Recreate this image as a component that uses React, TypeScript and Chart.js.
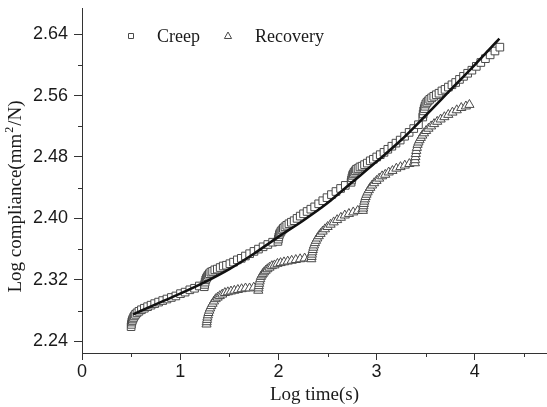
import { useEffect, useRef } from 'react';
import { Chart, registerables } from 'chart.js';

Chart.register(...registerables);

// Creep series (log time, log compliance), five loading steps
const creepLogTime = [
  0.500, 0.503, 0.507, 0.512, 0.518, 0.525, 0.534, 0.545, 0.560, 0.580, 0.605, 0.635, 0.668, 0.703, 0.740, 0.780, 0.822, 0.865, 0.910, 0.956, 1.003, 1.050, 1.098, 1.146, 1.195,
  1.245, 1.249, 1.254, 1.260, 1.267, 1.275, 1.285, 1.297, 1.312, 1.330, 1.352, 1.378, 1.407, 1.438, 1.471, 1.506, 1.543, 1.582, 1.622, 1.664, 1.707, 1.751, 1.797, 1.844, 1.892, 1.941,
  1.995, 1.999, 2.004, 2.010, 2.017, 2.026, 2.037, 2.050, 2.066, 2.085, 2.107, 2.132, 2.160, 2.190, 2.222, 2.256, 2.292, 2.330, 2.369, 2.410, 2.452, 2.495, 2.540, 2.586, 2.633, 2.681,
  2.740, 2.744, 2.749, 2.755, 2.762, 2.771, 2.782, 2.795, 2.811, 2.830, 2.852, 2.877, 2.905, 2.935, 2.967, 3.001, 3.037, 3.075, 3.114, 3.155, 3.197, 3.240, 3.285, 3.331, 3.378, 3.426,
  3.470, 3.474, 3.479, 3.485, 3.492, 3.501, 3.512, 3.525, 3.541, 3.560, 3.582, 3.607, 3.635, 3.665, 3.697, 3.731, 3.767, 3.805, 3.844, 3.885, 3.927, 3.970, 4.015, 4.061, 4.108, 4.156, 4.205, 4.255,
];
const creepLogCompliance = [
  2.259, 2.262, 2.265, 2.267, 2.269, 2.271, 2.273, 2.275, 2.277, 2.279, 2.281, 2.283, 2.285, 2.287, 2.289, 2.291, 2.293, 2.295, 2.297, 2.299, 2.302, 2.304, 2.307, 2.309, 2.312,
  2.311, 2.314, 2.317, 2.320, 2.322, 2.324, 2.326, 2.328, 2.330, 2.331, 2.333, 2.334, 2.336, 2.338, 2.339, 2.341, 2.343, 2.346, 2.348, 2.351, 2.354, 2.357, 2.360, 2.363, 2.366, 2.369,
  2.370, 2.373, 2.376, 2.379, 2.381, 2.383, 2.385, 2.387, 2.389, 2.391, 2.393, 2.395, 2.397, 2.400, 2.403, 2.406, 2.409, 2.412, 2.415, 2.419, 2.423, 2.427, 2.431, 2.435, 2.439, 2.443,
  2.447, 2.450, 2.453, 2.456, 2.458, 2.460, 2.462, 2.464, 2.465, 2.467, 2.468, 2.470, 2.472, 2.475, 2.477, 2.480, 2.483, 2.486, 2.490, 2.494, 2.498, 2.502, 2.507, 2.512, 2.517, 2.522,
  2.532, 2.536, 2.540, 2.543, 2.546, 2.549, 2.551, 2.553, 2.555, 2.557, 2.559, 2.561, 2.563, 2.566, 2.568, 2.571, 2.574, 2.577, 2.581, 2.585, 2.589, 2.593, 2.598, 2.603, 2.608, 2.613, 2.618, 2.623,
];

// Recovery series (log time, log compliance)
const recoveryLogTime = [
  1.268, 1.270, 1.273, 1.277, 1.282, 1.288, 1.296, 1.305, 1.316, 1.329, 1.344, 1.361, 1.381, 1.403, 1.428, 1.455, 1.485, 1.517, 1.551, 1.587, 1.625, 1.665, 1.706, 1.749,
  1.795, 1.797, 1.800, 1.804, 1.809, 1.815, 1.822, 1.831, 1.842, 1.855, 1.870, 1.888, 1.909, 1.933, 1.960, 1.990, 2.022, 2.057, 2.095, 2.135, 2.177, 2.221, 2.267, 2.314,
  2.335, 2.338, 2.341, 2.345, 2.350, 2.356, 2.363, 2.372, 2.383, 2.396, 2.411, 2.429, 2.450, 2.474, 2.501, 2.531, 2.563, 2.598, 2.636, 2.676, 2.718, 2.762, 2.808, 2.855,
  2.860, 2.863, 2.866, 2.870, 2.875, 2.881, 2.888, 2.897, 2.908, 2.921, 2.936, 2.954, 2.975, 2.999, 3.026, 3.056, 3.088, 3.123, 3.161, 3.201, 3.243, 3.287, 3.333, 3.380,
  3.390, 3.392, 3.395, 3.399, 3.404, 3.410, 3.417, 3.426, 3.437, 3.450, 3.465, 3.483, 3.504, 3.528, 3.555, 3.585, 3.617, 3.652, 3.690, 3.730, 3.772, 3.816, 3.862, 3.909, 3.945,
];
const recoveryLogCompliance = [
  2.262, 2.265, 2.268, 2.271, 2.274, 2.277, 2.280, 2.283, 2.286, 2.289, 2.292, 2.295, 2.297, 2.299, 2.301, 2.303, 2.304, 2.305, 2.306, 2.307, 2.308, 2.309, 2.309, 2.310,
  2.306, 2.309, 2.312, 2.315, 2.318, 2.321, 2.324, 2.326, 2.328, 2.330, 2.332, 2.334, 2.336, 2.338, 2.339, 2.341, 2.342, 2.343, 2.344, 2.345, 2.346, 2.347, 2.348, 2.348,
  2.347, 2.350, 2.353, 2.356, 2.359, 2.362, 2.365, 2.368, 2.371, 2.374, 2.377, 2.380, 2.383, 2.386, 2.389, 2.392, 2.395, 2.398, 2.401, 2.404, 2.406, 2.408, 2.410, 2.412,
  2.410, 2.413, 2.416, 2.419, 2.422, 2.425, 2.428, 2.431, 2.434, 2.437, 2.440, 2.443, 2.446, 2.449, 2.452, 2.455, 2.457, 2.460, 2.462, 2.465, 2.467, 2.469, 2.471, 2.473,
  2.472, 2.476, 2.480, 2.484, 2.488, 2.492, 2.496, 2.499, 2.502, 2.505, 2.508, 2.511, 2.514, 2.517, 2.520, 2.523, 2.526, 2.529, 2.532, 2.535, 2.538, 2.541, 2.544, 2.546, 2.548,
];

// Fitted master curve
const fitLogTime = [0.52, 0.75, 1.0, 1.25, 1.5, 1.75, 2.0, 2.25, 2.5, 2.75, 3.0, 3.25, 3.5, 3.75, 4.0, 4.25];
const fitLogCompliance = [2.275, 2.288, 2.302, 2.317, 2.334, 2.354, 2.376, 2.397, 2.420, 2.447, 2.474, 2.502, 2.534, 2.567, 2.600, 2.634];

const seriesNames = ['Creep', 'Recovery'];
const xTickValues = [0, 1, 2, 3, 4];
const yTickValues = [2.24, 2.32, 2.4, 2.48, 2.56, 2.64];
const xMinorTicks = [0.5, 1.5, 2.5, 3.5, 4.5];
const yMinorTicks = [2.28, 2.36, 2.44, 2.52, 2.6];

const AXIS_COLOR = '#333333';
const MARK_COLOR = '#4a4a4a';
const SERIF = '"Liberation Serif", "Times New Roman", serif';
const SANS = '"Liberation Sans", Arial, sans-serif';

const toPoints = (xs: number[], ys: number[]) => xs.map((x, i) => ({ x, y: ys[i] }));

const decorations = {
  id: 'decorations',
  afterDraw(chart: any) {
    const { ctx, chartArea, scales } = chart;
    const xs = scales.x;
    const ys = scales.y;
    ctx.save();

    // minor ticks
    ctx.strokeStyle = AXIS_COLOR;
    ctx.lineWidth = 1;
    ctx.beginPath();
    xMinorTicks.forEach((v) => {
      const px = Math.round(xs.getPixelForValue(v)) + 0.5;
      ctx.moveTo(px, chartArea.bottom);
      ctx.lineTo(px, chartArea.bottom + 4);
    });
    yMinorTicks.forEach((v) => {
      const py = Math.round(ys.getPixelForValue(v)) + 0.5;
      ctx.moveTo(chartArea.left, py);
      ctx.lineTo(chartArea.left - 4, py);
    });
    ctx.stroke();

    // legend
    const lx = chartArea.left + 49;
    const ly = chartArea.top + 28;
    ctx.strokeStyle = MARK_COLOR;
    ctx.fillStyle = '#ffffff';
    ctx.beginPath();
    ctx.rect(lx - 2.5, ly - 2.5, 5, 5);
    ctx.fill();
    ctx.stroke();
    const tx = lx + 97;
    ctx.beginPath();
    ctx.moveTo(tx, ly - 4);
    ctx.lineTo(tx + 3.6, ly + 2.5);
    ctx.lineTo(tx - 3.6, ly + 2.5);
    ctx.closePath();
    ctx.fill();
    ctx.stroke();
    ctx.fillStyle = '#1a1a1a';
    ctx.font = `18px ${SERIF}`;
    ctx.textAlign = 'left';
    ctx.textBaseline = 'alphabetic';
    ctx.fillText(seriesNames[0], lx + 26, ly + 6);
    ctx.fillText(seriesNames[1], tx + 27, ly + 6);

    // x axis title
    ctx.font = `19px ${SERIF}`;
    ctx.textAlign = 'center';
    ctx.fillText('Log time(s)', (chartArea.left + chartArea.right) / 2, 400);

    // y axis title with superscript
    const big = `19px ${SERIF}`;
    const small = `12px ${SERIF}`;
    const p1 = 'Log compliance(mm';
    const p2 = '2';
    const p3 = '/N)';
    ctx.font = big;
    const w1 = ctx.measureText(p1).width;
    const w3 = ctx.measureText(p3).width;
    ctx.font = small;
    const w2 = ctx.measureText(p2).width + 2;
    const total = w1 + w2 + w3;
    ctx.translate(21, (chartArea.top + chartArea.bottom) / 2 + 16);
    ctx.rotate(-Math.PI / 2);
    ctx.textAlign = 'left';
    let pos = -total / 2;
    ctx.font = big;
    ctx.fillText(p1, pos, 0);
    pos += w1 + 1;
    ctx.font = small;
    ctx.fillText(p2, pos, -8);
    pos += w2 - 1;
    ctx.font = big;
    ctx.fillText(p3, pos, 0);

    ctx.restore();
  },
};

export default function App() {
  const canvasRef = useRef<HTMLCanvasElement | null>(null);

  useEffect(() => {
    if (!canvasRef.current) return;
    const chart = new Chart(canvasRef.current, {
      type: 'scatter',
      data: {
        datasets: [
          {
            label: 'Fit',
            data: toPoints(fitLogTime, fitLogCompliance),
            showLine: true,
            borderColor: '#111111',
            borderWidth: 2.6,
            pointRadius: 0,
            cubicInterpolationMode: 'monotone',
            order: 0,
          },
          {
            label: seriesNames[0],
            data: toPoints(creepLogTime, creepLogCompliance),
            pointStyle: 'rect',
            pointRadius: 5.4,
            pointBorderWidth: 1,
            pointBorderColor: MARK_COLOR,
            pointBackgroundColor: '#ffffff',
            order: 1,
          },
          {
            label: seriesNames[1],
            data: toPoints(recoveryLogTime, recoveryLogCompliance),
            pointStyle: 'triangle',
            pointRadius: 5.3,
            pointBorderWidth: 1,
            pointBorderColor: MARK_COLOR,
            pointBackgroundColor: '#ffffff',
            order: 2,
          },
        ],
      },
      options: {
        animation: false,
        responsive: true,
        maintainAspectRatio: false,
        devicePixelRatio: 1,
        layout: { autoPadding: false, padding: { top: 8, left: 0, right: 0, bottom: 0 } },
        plugins: {
          legend: { display: false },
          tooltip: { enabled: false },
        },
        scales: {
          x: {
            type: 'linear',
            min: 0,
            max: 4.735,
            afterBuildTicks: (scale: any) => {
              scale.ticks = xTickValues.map((v) => ({ value: v }));
            },
            afterFit: (scale: any) => {
              scale.height = 54;
              scale.paddingLeft = 0;
              scale.paddingRight = 0;
            },
            grid: {
              display: true,
              drawOnChartArea: false,
              drawTicks: true,
              tickLength: 7,
              color: AXIS_COLOR,
              tickColor: AXIS_COLOR,
            },
            border: { display: true, color: AXIS_COLOR, width: 1 },
            ticks: {
              padding: 1,
              color: '#1a1a1a',
              font: { family: SANS, size: 18 },
              maxRotation: 0,
              callback: (v: any) => String(v),
            },
          },
          y: {
            type: 'linear',
            min: 2.2247,
            max: 2.674,
            afterBuildTicks: (scale: any) => {
              scale.ticks = yTickValues.map((v) => ({ value: v }));
            },
            afterFit: (scale: any) => {
              scale.width = 82;
              scale.paddingTop = 0;
              scale.paddingBottom = 0;
            },
            grid: {
              display: true,
              drawOnChartArea: false,
              drawTicks: true,
              tickLength: 8,
              color: AXIS_COLOR,
              tickColor: AXIS_COLOR,
            },
            border: { display: true, color: AXIS_COLOR, width: 1 },
            ticks: {
              padding: 6,
              color: '#1a1a1a',
              font: { family: SANS, size: 18 },
              callback: (v: any) => Number(v).toFixed(2),
            },
          },
        },
      },
      plugins: [decorations],
    } as any);
    return () => chart.destroy();
  }, []);

  return (
    <div style={{ position: 'fixed', left: 0, top: 0, width: 547, height: 407, background: '#ffffff' }}>
      <canvas ref={canvasRef} />
    </div>
  );
}
